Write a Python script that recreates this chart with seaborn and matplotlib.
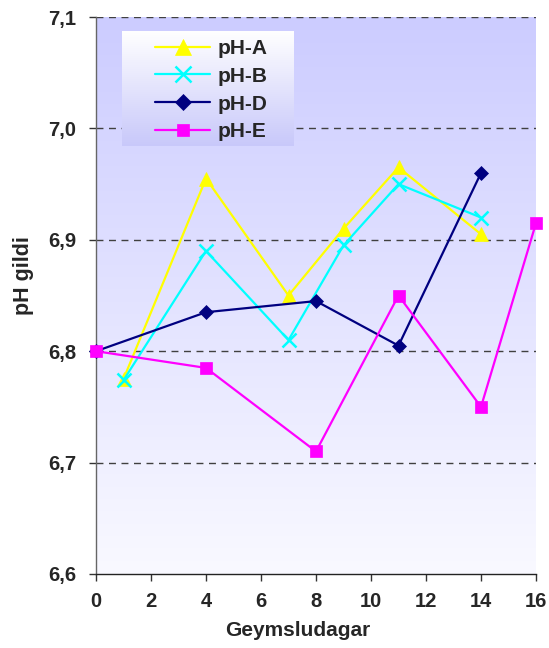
import numpy as np
import pandas as pd
import seaborn as sns
import matplotlib
matplotlib.use("Agg")
import matplotlib.pyplot as plt
from matplotlib.colors import to_rgb

# ---- data ----
days_A = [1, 4, 7, 9, 11, 14]
ph_A = [6.775, 6.955, 6.850, 6.910, 6.965, 6.905]
days_B = [1, 4, 7, 9, 11, 14]
ph_B = [6.774, 6.890, 6.810, 6.895, 6.950, 6.920]
days_D = [0, 4, 8, 11, 14]
ph_D = [6.800, 6.835, 6.845, 6.805, 6.960]
days_E = [0, 4, 8, 11, 14, 16]
ph_E = [6.800, 6.785, 6.710, 6.850, 6.750, 6.915]
series_names = ["pH-A", "pH-B", "pH-D", "pH-E"]
x_ticks = list(range(0, 17, 2))
y_ticks = [6.6, 6.7, 6.8, 6.9, 7.0, 7.1]
y_ticklabels = ["6,6", "6,7", "6,8", "6,9", "7,0", "7,1"]

frames = []
for name, xs, ys in zip(series_names, [days_A, days_B, days_D, days_E], [ph_A, ph_B, ph_D, ph_E]):
    frames.append(pd.DataFrame({"Geymsludagar": xs, "pH": ys, "series": name}))
df = pd.concat(frames, ignore_index=True)

palette = {"pH-A": "#FFFF00", "pH-B": "#00FFFF", "pH-D": "#000080", "pH-E": "#FF00FF"}
markers = {"pH-A": "^", "pH-B": "x", "pH-D": "D", "pH-E": "s"}
msizes = {"pH-A": 10, "pH-B": 10, "pH-D": 7, "pH-E": 8.5}

sns.set_theme(style="white")
plt.rcParams['font.family'] = ['Liberation Sans', 'DejaVu Sans']

fig = plt.figure(figsize=(5.49, 6.48), dpi=100)
ax = fig.add_axes([96/549, 1-574/648, 440/549, 557/648])

# background gradient
top = np.array(to_rgb("#CCCCFF"))
bot = np.array(to_rgb("#F9F9FF"))
t = np.linspace(0, 1, 256)[:, None]
grad = (top * (1 - t) + bot * t)[:, None, :]
ax.imshow(grad, aspect="auto", extent=(0, 16, 6.6, 7.1), origin="upper", zorder=0)

for name in series_names:
    sub = df[df.series == name]
    sns.lineplot(data=sub, x="Geymsludagar", y="pH", color=palette[name],
                 marker=markers[name], markersize=msizes[name],
                 markeredgecolor=palette[name], markeredgewidth=1.8 if name == "pH-B" else 0.5,
                 linewidth=1.6, ax=ax, clip_on=False, zorder=3, label=name, legend=False)

ax.set_xlim(0, 16)
ax.set_ylim(6.6, 7.1)
ax.set_xticks(x_ticks)
ax.set_xticklabels([str(v) for v in x_ticks])
ax.set_yticks(y_ticks)
ax.set_yticklabels(y_ticklabels)
for v in y_ticks[1:]:
    ax.axhline(v, color="#404040", linestyle=(0, (5, 4)), linewidth=1.0, zorder=1)

for s in ["top", "right"]:
    ax.spines[s].set_visible(False)
ax.spines["left"].set_color("#666666")
ax.spines["bottom"].set_color("#222222")
ax.spines["left"].set_linewidth(1.0)
ax.spines["bottom"].set_linewidth(1.0)
ax.tick_params(axis="both", which="major", direction="out", length=5, width=1,
               color="#333333", labelsize=14.5, bottom=True, left=True)
ax.tick_params(axis="x", pad=8)
ax.tick_params(axis="y", pad=9)
for lab in ax.get_xticklabels() + ax.get_yticklabels():
    lab.set_fontweight("bold")
ax.set_xlabel("Geymsludagar", fontsize=15, fontweight="bold")
ax.set_ylabel("pH gildi", fontsize=15.5, fontweight="bold")
ax.xaxis.set_label_coords((298-96)/440, -(621-574)/557)
ax.yaxis.set_label_coords(-(96-34)/440, (574-276)/557)

# legend gradient background
lx0, lx1 = (122-96)/440, (294-96)/440
ly0, ly1 = 1-(146-17)/557, 1-(31-17)/557
lg = (np.array([1, 1, 1]) * (1 - t) + np.array(to_rgb("#C8C8FA")) * t)[:, None, :]
ax.imshow(lg, aspect="auto", extent=(lx0, lx1, ly0, ly1), origin="upper",
          transform=ax.transAxes, zorder=4)
ax.set_xlim(0, 16)
ax.set_ylim(6.6, 7.1)

leg = ax.legend(loc="upper left", bbox_to_anchor=((155-96)/440, 1-(39-17)/557), frameon=False,
                prop={"weight": "bold", "size": 15}, handlelength=2.65,
                labelspacing=0.42, borderpad=0, handletextpad=0.35, borderaxespad=0,
                markerscale=1.1)
leg.set_zorder(5)

fig.savefig("out.png", dpi=100)
